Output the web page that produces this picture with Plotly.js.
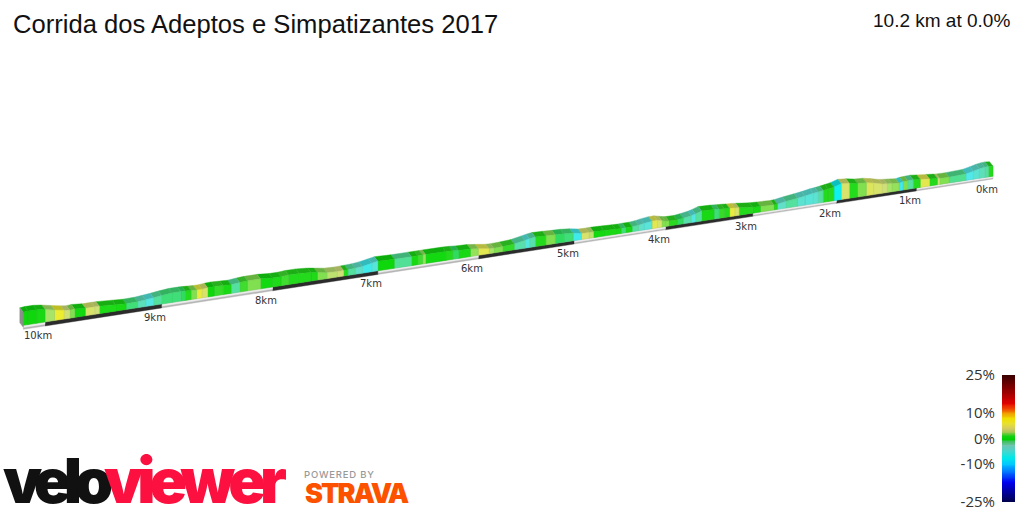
<!DOCTYPE html>
<html><head><meta charset="utf-8">
<script src="https://cdn.plot.ly/plotly-3.0.1.min.js"></script>
<style>html,body{margin:0;padding:0;background:#fff}#chart{width:1024px;height:512px}</style>
</head><body><div id="chart"></div>
<script>
// Route segments: end distance (km), gradient (%), ribbon height at the segment end
const segEndKm = [.06,.11,.18,.26,.36,.58,.70,.73,.83,.95,1.04,1.11,1.17,1.22,1.31,1.37,1.43,1.54,1.63,1.74,1.84,1.94,2.03,
 2.10,2.16,2.22,2.28,2.38,2.47,2.61,2.71,2.75,2.91,3.0,
 3.16,3.21,3.27,3.33,3.39,3.45,3.59,3.66,3.71,3.80,3.87,3.96,4.0,
 4.04,4.09,4.15,4.24,4.30,4.37,4.44,4.49,4.55,4.68,4.79,4.84,4.92,5.01,
 5.11,5.20,5.30,5.41,5.47,5.52,5.63,5.75,5.84,5.89,6.0,
 6.08,6.20,6.26,6.33,6.53,6.56,6.61,6.67,6.84,7.0,
 7.06,7.15,7.22,7.29,7.33,7.39,7.49,7.58,7.64,7.75,7.85,7.92,8.0,
 8.11,8.23,8.30,8.38,8.45,8.53,8.59,8.64,8.69,8.74,8.79,8.83,8.91,9.0,
 9.07,9.14,9.21,9.31,9.40,9.54,9.58,9.66,9.75,9.79,9.84,9.92,10.0,10.07,10.14,10.18];
const segGrade = [.5,-2.5,-3.5,-4.5,-6,-2,2,4,.5,5.5,.5,-2.5,2,-6.5,2.5,3,4,4.5,5,2,.5,4.5,-8,
 .5,.5,-2.5,-4.5,-5,-4.5,-2.5,-4,.5,2,.3,
 .5,4.5,6,.5,.8,-1.5,.3,-2.5,-5.5,-3,-1,.6,2,
 2,4.5,5.5,-5,-4,-2.5,.3,-1.5,.3,.3,.2,3.5,4.5,-6.5,
 -1.5,-1,2,.5,-3,-5.5,-3,.8,2,3,5.5,
 2.5,.3,-1,.5,.2,2.5,1,.3,-2.2,.1,
 -5,-6.5,-4,-2.5,.5,4,3.5,2,.4,.5,.5,1,.4,
 .2,2,1,-2.5,.3,.8,.1,4.5,6,2,.5,-1,-1.5,-1.5,
 -2.5,-5.5,-3.5,-1.5,.3,.4,4,4.5,.2,2,4,6.5,3,.3,.1,.1];
const startHeight = 10;
const segHeight = [10.5,10.3,9.5,8,6.5,5.8,6,6.2,7,8,8.8,8.5,8.2,7.5,8.3,8.7,9.3,11.5,13,13.5,15,15.8,13.5,
 12.5,11.8,11,10.5,9,8,6.5,5.2,5,5.5,5.8,
 7.5,8,8.3,8.7,9,9.5,10,8,6.8,5.5,4.8,5,5.5,
 6.5,7.5,7.5,6.5,5.5,5,5,4.8,5,5.5,5.8,5.8,6,7.5,
 8.5,8.7,9.2,9.5,8.8,7.8,5.8,5,4.8,5,6.5,
 7.5,8,8.5,8.8,9,9,9,9,9,9.6,
 8.4,6.8,6,5.8,5.6,5.5,6,7.5,8.5,9.5,9.5,9,9,
 10,10,9.5,8.7,9,9.5,9.2,8.7,8.7,9,9.3,9.5,9.5,8.5,
 7.5,6.7,6,5.8,6.5,7.5,7.5,7.5,8.5,8,8.7,10.5,12.5,13.5,13.5,13];
const kmMarks = [0,1,2,3,4,5,6,7,8,9,10];
const gradeTicks = [25,10,0,-10,-25];
const gradeTickText = ['25%','10%','0%','-10%','-25%'];
const titleText = 'Corrida dos Adeptos e Simpatizantes 2017';
const summaryText = '10.2 km at 0.0%';

// Colour scales
const barStops = [[-25,'#00004a'],[-20,'#0000b0'],[-17,'#0000f0'],[-13,'#0070ff'],[-10,'#00c8ff'],[-7.5,'#00e8e8'],[-5,'#40d8d0'],[-2.5,'#70c4b0'],[-1,'#40c060'],[0,'#00d000'],[1,'#10d010'],[2.5,'#a0c850'],[4,'#d4cc60'],[6,'#e8e030'],[8,'#f0e000'],[10,'#f0a000'],[12,'#f04000'],[14,'#e00000'],[18,'#a00000'],[25,'#3c0000']];
const faceStops = [[-8,'#10f0f0'],[-6,'#50e8e8'],[-4,'#60e0c8'],[-2,'#50e090'],[-1,'#30dc60'],[0,'#08d808'],[1,'#40dc30'],[2,'#80e050'],[3,'#a8e468'],[4,'#d0e078'],[5.5,'#e4e850'],[7,'#f0f020']];
function rgb(h){return [1,3,5].map(i=>parseInt(h.substr(i,2),16));}
function faceColor(g,k){
  let i=0; while(i<faceStops.length-2 && g>faceStops[i+1][0]) i++;
  const a=faceStops[i],b=faceStops[i+1],t=Math.max(0,Math.min(1,(g-a[0])/(b[0]-a[0])));
  const A=rgb(a[1]),B=rgb(b[1]);
  return 'rgb('+A.map((v,j)=>Math.round((v+(B[j]-v)*t)*k)).join(',')+')';
}
// Perspective of the view
const kmToX = d => (993-95.74*d)/(1-0.0208*d);
const baseY = x => 322-0.1538*(x-45);
const depthX = -3.5, depthY = -4.5;

function poly(xs,ys,color,lw,lc){return {type:'scatter',mode:'lines',x:[...xs,xs[0]],y:[...ys,ys[0]],fill:'toself',fillcolor:color,
  line:{color:lc||color,width:lw===undefined?0.4:lw},hoverinfo:'skip',showlegend:false,xaxis:'x',yaxis:'y'};}

const traces=[];
// Road strip, km by km, alternating white and black
const roadEnds=[...kmMarks,10.18];
for(let i=0;i<roadEnds.length-1;i++){
  const x1=kmToX(roadEnds[i]),x2=kmToX(roadEnds[i+1]);
  const t1=2.8+0.12*roadEnds[i],t2=2.8+0.12*roadEnds[i+1];
  if(i%2===1){
    traces.push(poly([x1,x2,x2,x1],[baseY(x1),baseY(x2),baseY(x2)+t2,baseY(x1)+t1],'#2b2b2b'));
  }else{
    traces.push(poly([x1,x2,x2,x1],[baseY(x1),baseY(x2),baseY(x2)+t2,baseY(x1)+t1],'#b4b4b4'));
    traces.push(poly([x1,x2,x2,x1],[baseY(x1),baseY(x2),baseY(x2)+t2*0.55,baseY(x1)+t1*0.55],'#ececec'));
  }
}
// Top surface
let prevKm=0,prevH=startHeight;
segEndKm.forEach((km,i)=>{
  const x1=kmToX(prevKm),x2=kmToX(km),h1=prevH,h2=segHeight[i];
  const y1=baseY(x1)-h1,y2=baseY(x2)-h2;
  traces.push(poly([x1,x2,x2+depthX,x1+depthX],[y1,y2,y2+depthY,y1+depthY],faceColor(segGrade[i],0.8)));
  prevKm=km;prevH=h2;
});
// End cap
const xe=kmToX(10.18),he=segHeight[segHeight.length-1];
traces.push(poly([xe,xe+depthX,xe+depthX,xe],[baseY(xe)-he,baseY(xe)-he+depthY,baseY(xe)+depthY+2,baseY(xe)+2],'#8e8e8e'));
// Front faces
prevKm=0;prevH=startHeight;
segEndKm.forEach((km,i)=>{
  const x1=kmToX(prevKm),x2=kmToX(km),h1=prevH,h2=segHeight[i];
  traces.push(poly([x1,x2,x2,x1],[baseY(x1)-h1,baseY(x2)-h2,baseY(x2),baseY(x1)],faceColor(segGrade[i],1),0.5,faceColor(segGrade[i],0.9)));
  prevKm=km;prevH=h2;
});
// Gradient scale
const scaleGrades=[];for(let g=-25;g<=25;g++)scaleGrades.push(g);
traces.push({type:'heatmap',x:[0,1],y:scaleGrades,z:scaleGrades.map(g=>[g,g]),zmin:-25,zmax:25,zsmooth:'best',showscale:false,
  colorscale:barStops.map(s=>[(s[0]+25)/50,s[1]]),xaxis:'x2',yaxis:'y2',hoverinfo:'skip'});

const annotations=kmMarks.map(k=>({xref:'x',yref:'y',x:kmToX(k)-6.5,y:baseY(kmToX(k))+13,text:k+'km',showarrow:false,
  font:{family:'DejaVu Sans',size:10,color:'#333'}}));
annotations.push({xref:'x',yref:'y',x:1012,y:20,xanchor:'right',text:summaryText,showarrow:false,font:{family:'Liberation Sans',size:19,color:'#111'}});
const logoFont=(c,s,w)=>({family:'Inter',size:s,color:c,weight:w});
annotations.push({xref:'x',yref:'y',x:54.5,y:480,xanchor:'center',text:'velo',showarrow:false,font:logoFont('#111',62,900)});
annotations.push({xref:'x',yref:'y',x:192,y:480,xanchor:'center',text:'viewer',showarrow:false,font:logoFont('#fc1040',62,900)});
annotations.push({xref:'x',yref:'y',x:339.5,y:474,xanchor:'center',text:'POWERED BY',showarrow:false,font:logoFont('#999',9.5,500)});
annotations.push({xref:'x',yref:'y',x:356,y:493,xanchor:'center',text:'STRAVA',showarrow:false,font:logoFont('#fc5200',27,900)});

const layout={width:1024,height:512,margin:{l:0,r:0,t:0,b:0},paper_bgcolor:'#fff',plot_bgcolor:'#fff',showlegend:false,
  title:{text:titleText,x:13/1024,xanchor:'left',y:1-24/512,yanchor:'middle',font:{family:'Liberation Sans',size:25.6,color:'#111'}},
  xaxis:{range:[0,1024],visible:false,fixedrange:true,domain:[0,1]},
  yaxis:{range:[512,0],visible:false,fixedrange:true,domain:[0,1]},
  xaxis2:{domain:[1002/1024,1015/1024],range:[0,1],anchor:'y2',visible:false,fixedrange:true},
  yaxis2:{domain:[1-502/512,1-375/512],range:[-25,25],anchor:'x2',side:'left',showgrid:false,zeroline:false,showline:false,ticks:'',
    tickmode:'array',tickvals:gradeTicks,ticktext:gradeTickText,ticklabelstandoff:6,tickfont:{family:'Open Sans',size:15,color:'#333'},fixedrange:true},
  annotations:annotations};
Plotly.newPlot('chart',traces,layout,{displayModeBar:false,staticPlot:true}).then(gd=>{
  const spacing={velo:'-7.5px',viewer:'-6px','POWERED BY':'0.8px',STRAVA:'-2px'};
  gd.querySelectorAll('.annotation text').forEach(t=>{
    const s=spacing[t.textContent]; if(s) t.style.letterSpacing=s;
  });
});
</script></body></html>
